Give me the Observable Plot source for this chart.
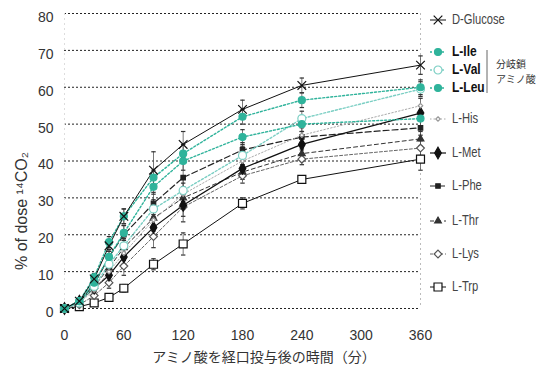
<!DOCTYPE html>
<html>
<head>
<meta charset="utf-8">
<script src="https://cdn.jsdelivr.net/npm/d3@7"></script>
<script src="https://cdn.jsdelivr.net/npm/@observablehq/plot@0.6"></script>
<style>
  html, body { margin: 0; padding: 0; background: #fff; }
  #chart svg { display: block; }
</style>
</head>
<body>
<div id="chart"></div>
<script>
// ---- data ----
const times = [0, 15, 30, 45, 60, 90, 120, 180, 240, 360];
const xTicks = [0, 60, 120, 180, 240, 300, 360];
const yTicks = [0, 10, 20, 30, 40, 50, 60, 70, 80];

const glucose = [0, 2, 8, 17, 25, 37.5, 44.5, 54, 60.5, 66];
const leu     = [0, 2, 8.5, 18, 25, 35.5, 42, 52, 56.5, 60];
const ile     = [0, 2, 7, 14, 20.5, 33, 40, 46.5, 50, 51.5];
const val     = [0, 1.5, 6, 12, 17, 27, 32, 41.5, 51.5, 59.5];
const his     = [0, 1.5, 5, 10, 15, 24, 31, 40, 47, 55];
const met     = [0, 2, 5.5, 9, 14, 22, 28, 38, 44.5, 53];
const phe     = [0, 2, 6.5, 14, 20, 28.5, 35.5, 43, 46.5, 49];
const thr     = [0, 2, 6, 11, 16.5, 24.5, 30, 37, 42, 46];
const lys     = [0, 1, 3.5, 7, 11.5, 19.5, 27.5, 36, 40.5, 43.5];
const trp     = [0, 0.5, 1.5, 3, 5.5, 12, 17.5, 28.5, 35, 40.5];

const glucoseErr = [0, 0.5, 1, 1.5, 2, 5, 3.5, 2.5, 2, 2.5];
const leuErr     = [0, 0.5, 1, 1.5, 2, 2, 2.5, 2, 2, 2];
const ileErr     = [0, 0.5, 1, 1.5, 2, 2, 2.5, 2, 2, 2];
const valErr     = [0, 0.5, 1, 1.5, 2, 2.5, 3, 2.5, 2, 2];
const hisErr     = [0, 0.5, 1, 1.5, 2, 3, 3, 2, 2, 2];
const metErr     = [0, 0.5, 1, 1.5, 2, 3, 3, 2, 1.5, 2];
const pheErr     = [0, 0.5, 1, 2, 2.5, 3, 5, 2, 1.5, 2];
const thrErr     = [0, 0.5, 1, 1.5, 2, 3, 3, 2, 1.5, 2];
const lysErr     = [0, 0.5, 1, 1.5, 2.5, 3, 4, 2, 1.5, 2];
const trpErr     = [0, 0.3, 0.5, 0.8, 1, 1.5, 3, 1.5, 1, 3];

const seriesNames = ["D-Glucose", "L-Ile", "L-Val", "L-Leu", "L-His", "L-Met", "L-Phe", "L-Thr", "L-Lys", "L-Trp"];
const seriesValues = [glucose, ile, val, leu, his, met, phe, thr, lys, trp];
const seriesErrors = [glucoseErr, ileErr, valErr, leuErr, hisErr, metErr, pheErr, thrErr, lysErr, trpErr];

const yLabel = "% of dose ¹⁴CO₂";
const xLabel = "アミノ酸を経口投与後の時間（分）";
const bracketLines = ["分岐鎖", "アミノ酸"];

// ---- styles ----
const TEAL = "#2fb39b";
const TEAL_LIGHT = "#7ccfc4";
const styles = {
  "D-Glucose": {stroke: "#111", dash: null, width: 1, symbol: "times", fill: "none", mstroke: "#111", r: 4, bold: false},
  "L-Ile": {stroke: TEAL, dash: "2,2", width: 1.4, symbol: "circle", fill: TEAL, mstroke: TEAL, r: 3.5, bold: true},
  "L-Val": {stroke: TEAL_LIGHT, dash: "2,2", width: 1.4, symbol: "circle", fill: "white", mstroke: TEAL_LIGHT, r: 4, bold: true},
  "L-Leu": {stroke: TEAL, dash: "2,2", width: 1.4, symbol: "circle", fill: TEAL, mstroke: TEAL, r: 3.5, bold: true},
  "L-His": {stroke: "#aaa", dash: "1.5,2", width: 1, symbol: "diamond2", fill: "white", mstroke: "#999", r: 2, bold: false},
  "L-Met": {stroke: "#111", dash: null, width: 1.2, symbol: "diamond", fill: "#111", mstroke: "#111", r: 3.5, bold: false},
  "L-Phe": {stroke: "#222", dash: "6,3", width: 1.2, symbol: "square", fill: "#222", mstroke: "#222", r: 2.5, bold: false},
  "L-Thr": {stroke: "#333", dash: "4,3", width: 1, symbol: "triangle", fill: "#333", mstroke: "#333", r: 2.5, bold: false},
  "L-Lys": {stroke: "#666", dash: "3,2", width: 1, symbol: "diamond2", fill: "white", mstroke: "#555", r: 3.5, bold: false},
  "L-Trp": {stroke: "#111", dash: null, width: 1, symbol: "square", fill: "white", mstroke: "#111", r: 4.5, bold: false}
};

// ---- tidy table ----
const rows = [];
seriesNames.forEach((name, i) => {
  times.forEach((t, j) => {
    rows.push({name, t, v: seriesValues[i][j], e: seriesErrors[i][j]});
  });
});

const capSymbol = {
  draw(ctx, size) {
    const w = Math.sqrt(size) / 2;
    ctx.moveTo(-w, 0);
    ctx.lineTo(w, 0);
  }
};

const W = 541, H = 372;
const drawOrder = ["L-Trp", "L-Lys", "L-Thr", "L-Phe", "L-Met", "L-His", "L-Val", "L-Ile", "L-Leu", "D-Glucose"];

const marks = [
  Plot.ruleY(yTicks, {stroke: "#222", strokeDasharray: "2,2", strokeWidth: 1}),
  Plot.ruleX([0], {stroke: "#ddd", strokeDasharray: "2,3"}),
  Plot.ruleX([360], {stroke: "#bbb", strokeDasharray: "2,3"}),
  Plot.axisX(xTicks, {tickSize: 0, tickPadding: 22, fontSize: 14, fill: "#333", label: null}),
  Plot.axisY(yTicks, {tickSize: 0, tickPadding: 11, fontSize: 14, fill: "#333", dy: 4, label: null})
];

// error bars
const errRows = rows.filter(d => d.e > 0);
marks.push(Plot.ruleX(errRows, {x: "t", y1: d => d.v - d.e, y2: d => d.v + d.e, stroke: "#555", strokeWidth: 0.8}));
marks.push(Plot.dot(errRows, {x: "t", y: d => d.v + d.e, symbol: capSymbol, r: 2.5, stroke: "#333", strokeWidth: 1.2}));
marks.push(Plot.dot(errRows, {x: "t", y: d => d.v - d.e, symbol: capSymbol, r: 2.5, stroke: "#333", strokeWidth: 1.2}));

for (const name of drawOrder) {
  const s = styles[name];
  const data = rows.filter(d => d.name === name);
  marks.push(Plot.line(data, {x: "t", y: "v", stroke: s.stroke, strokeWidth: s.width, strokeDasharray: s.dash}));
}
for (const name of drawOrder) {
  const s = styles[name];
  const data = rows.filter(d => d.name === name);
  marks.push(Plot.dot(data, {x: "t", y: "v", symbol: s.symbol, r: s.r, fill: s.fill, stroke: s.mstroke, strokeWidth: 1.2}));
}

const chart = Plot.plot({
  width: W,
  height: H,
  marginLeft: 64,
  marginRight: 121,
  marginTop: 13,
  marginBottom: 64,
  style: {fontFamily: "'Liberation Sans', Arial, sans-serif", background: "white", overflow: "visible"},
  x: {domain: [0, 360]},
  y: {domain: [0, 80]},
  marks
});

document.getElementById("chart").appendChild(chart);

// ---- labels and legend ----
const svg = d3.select(chart);

svg.append("text")
  .attr("transform", "translate(23,211) rotate(-90)")
  .attr("text-anchor", "middle")
  .attr("dominant-baseline", "middle")
  .attr("font-family", "'Liberation Sans', Arial, sans-serif")
  .attr("font-size", 16)
  .attr("fill", "#333")
  .text(yLabel);

svg.append("text")
  .attr("x", 264)
  .attr("y", 358)
  .attr("text-anchor", "middle")
  .attr("dominant-baseline", "middle")
  .attr("font-family", "'Noto Sans CJK JP', sans-serif")
  .attr("font-size", 14)
  .attr("fill", "#333")
  .text(xLabel);

const symbolMap = {
  times: d3.symbolTimes, circle: d3.symbolCircle, diamond: d3.symbolDiamond,
  diamond2: d3.symbolDiamond2, square: d3.symbolSquare, triangle: d3.symbolTriangle
};
const legendY = {"D-Glucose": 20, "L-Ile": 52, "L-Val": 70, "L-Leu": 88,
  "L-His": 119, "L-Met": 153, "L-Phe": 186, "L-Thr": 221, "L-Lys": 254, "L-Trp": 287};
const lg = svg.append("g")
  .attr("font-family", "'Liberation Sans', Arial, sans-serif")
  .attr("text-anchor", "start");
seriesNames.forEach(name => {
  const s = styles[name];
  const y = legendY[name];
  lg.append("line").attr("x1", 430).attr("x2", 446).attr("y1", y).attr("y2", y)
    .attr("stroke", s.stroke).attr("stroke-width", s.width)
    .attr("stroke-dasharray", s.dash || null);
  lg.append("path")
    .attr("transform", `translate(438,${y})`)
    .attr("d", d3.symbol(symbolMap[s.symbol], Math.PI * s.r * s.r)())
    .attr("fill", s.fill).attr("stroke", s.mstroke).attr("stroke-width", 1.2);
  lg.append("text")
    .attr("transform", `translate(452,${y}) scale(0.8,1)`)
    .attr("dominant-baseline", "middle")
    .attr("text-anchor", "start")
    .attr("font-size", s.bold ? 15 : 14)
    .attr("font-weight", s.bold ? "bold" : null)
    .attr("fill", s.bold ? "#111" : "#444")
    .text(name);
});
lg.append("line").attr("x1", 487).attr("x2", 487).attr("y1", 50).attr("y2", 93)
  .attr("stroke", "#666").attr("stroke-width", 1);
bracketLines.forEach((t, i) => {
  lg.append("text").attr("x", 496).attr("y", 65 + i * 15).attr("dominant-baseline", "middle")
    .attr("text-anchor", "start")
    .attr("font-family", "'Noto Sans CJK JP', sans-serif")
    .attr("font-size", 10).attr("fill", "#333").text(t);
});
</script>
</body>
</html>
